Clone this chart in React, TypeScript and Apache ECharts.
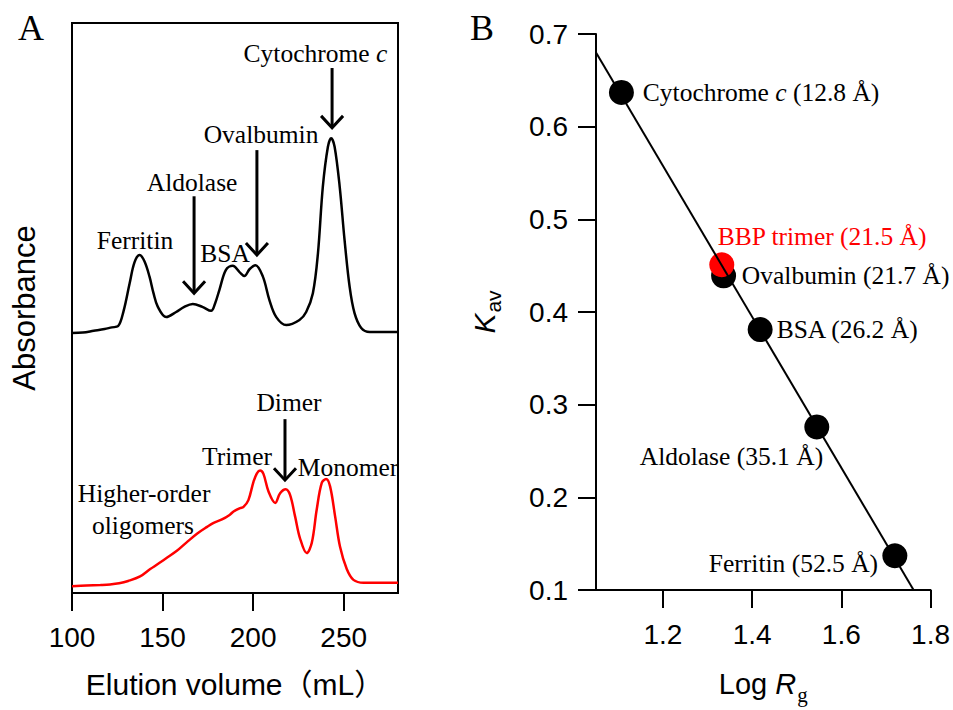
import React, { useEffect, useRef } from "react";
import * as echarts from "echarts";

// ---------- Panel A: elution profiles ----------
const standardsElution = [100, 106, 112, 118, 122, 125.4, 128.5, 131.8, 134.5, 137.3, 140, 142.8, 145, 147.4, 152, 157.5, 162, 166.7, 172, 176.8, 179, 181.4, 185, 188.8, 192.5, 195.2, 198, 201.3, 205.4, 209, 212.8, 218.3, 225.6, 229.3, 233, 235.8, 238.5, 241.3, 243.1, 245, 247.8, 250.5, 253.3, 256, 259.7, 264.4, 272, 280];
const standardsAbs = [45.6, 45.7, 46.0, 46.3, 46.6, 46.8, 49.5, 54.3, 58.0, 59.3, 58.2, 55.5, 52.6, 50.2, 48.4, 49.3, 50.2, 50.7, 50.2, 49.5, 50.8, 53.2, 56.7, 57.4, 56.3, 55.6, 56.8, 57.5, 55.5, 51.4, 48.4, 47.0, 47.9, 49.3, 52.6, 59.6, 71.3, 78.3, 79.8, 78.3, 71.3, 61.9, 53.7, 49.1, 46.5, 45.8, 45.8, 45.8];

const bbpElution = [100, 108, 115.7, 121, 126, 131, 137.6, 143.2, 152, 157.9, 163, 169, 174.6, 178.2, 182.8, 187, 189.2, 192.8, 194.7, 197.4, 200.2, 202.1, 203.9, 205.7, 208.5, 212.2, 214.9, 218, 220.4, 223.2, 225.9, 229.6, 232.4, 235.1, 237.9, 240.3, 242.5, 245.3, 248, 251.7, 255.4, 261, 270, 280];
const bbpAbs = [1.2, 1.3, 1.4, 1.5, 1.7, 2.1, 2.9, 4.2, 6.1, 7.4, 8.8, 10.4, 11.6, 12.3, 12.9, 13.7, 14.3, 14.9, 15.1, 16.3, 19.5, 21.0, 21.5, 20.9, 17.8, 15.8, 17.5, 18.2, 17.2, 13.4, 9.6, 7.0, 8.8, 14.6, 19.3, 20.0, 18.7, 13.4, 8.1, 4.2, 2.3, 1.8, 1.8, 1.8];

const xTicksA = [100, 150, 200, 250];

// peak annotations (data coordinates of panel A)
const peakLabelText = ["Cytochrome {i|c}", "Ovalbumin", "Aldolase", "Ferritin", "BSA"];
const peakLabelX = [234.4, 204.4, 166.3, 134.8, 184.5];
const peakLabelY = [94.7, 80.4, 72.1, 61.9, 59.6];
const peakArrows = [
  [243.6, 92.1, 81.6],
  [202.1, 77.7, 59.3],
  [167.4, 69.6, 52.6],
];
const oligoLabelText = ["Dimer", "Trimer", "Monomer", "Higher-order", "oligomers"];
const oligoLabelX = [219.8, 191.1, 252.4, 139.8, 139.2];
const oligoLabelY = [33.5, 23.9, 22.1, 17.4, 11.9];
const oligoArrows = [[217.6, 30.5, 19.8]];

// ---------- Panel B: calibration ----------
const proteinNames = ["Cytochrome {i|c}", "Ovalbumin", "BSA", "Aldolase", "Ferritin"];
const proteinRg = ["12.8", "21.7", "26.2", "35.1", "52.5"];
const proteinLogRg = [1.107, 1.336, 1.418, 1.545, 1.72];
const proteinKav = [0.637, 0.439, 0.381, 0.276, 0.137];
const bbpLogRg = [1.332];
const bbpKav = [0.451];
const bbpRg = ["21.5"];
const fitLogRg = [1.05, 1.762];
const fitKav = [0.68, 0.1];
const xTicksB = [1.2, 1.4, 1.6, 1.8];

// label anchor positions (data coordinates of panel B, left-aligned)
const proteinLabelX = [1.155, 1.377, 1.455, 1.148, 1.303];
const proteinLabelY = [0.637, 0.439, 0.381, 0.244, 0.129];
const bbpLabelX = [1.323];
const bbpLabelY = [0.482];

const SANS = "'Liberation Sans', Arial, 'Noto Sans CJK JP', sans-serif";
const SERIF = "'Liberation Serif', 'Times New Roman', serif";
const ANN_SIZE = 25.5;

function textSeries(gridIdx: number, texts: string[], xs: number[], ys: number[], color: string, align: string) {
  return {
    type: "custom",
    coordinateSystem: "cartesian2d",
    xAxisIndex: gridIdx,
    yAxisIndex: gridIdx,
    silent: true,
    clip: false,
    z: 20,
    data: xs.map((x, i) => [x, ys[i]]),
    encode: { x: 0, y: 1 },
    renderItem: (params: any, api: any) => {
      const p = api.coord([api.value(0), api.value(1)]);
      return {
        type: "text",
        x: p[0],
        y: p[1],
        style: {
          text: texts[params.dataIndex],
          fill: color,
          fontFamily: SERIF,
          fontSize: ANN_SIZE,
          align,
          verticalAlign: "middle",
          rich: {
            i: { fontStyle: "italic", fontFamily: SERIF, fontSize: ANN_SIZE, fill: color },
          },
        },
      };
    },
  };
}

function arrowSeries(gridIdx: number, arrows: number[][], color: string) {
  return {
    type: "custom",
    coordinateSystem: "cartesian2d",
    xAxisIndex: gridIdx,
    yAxisIndex: gridIdx,
    silent: true,
    clip: false,
    z: 20,
    data: arrows,
    encode: { x: 0, y: [1, 2] },
    renderItem: (params: any, api: any) => {
      const x = api.value(0);
      const a = api.coord([x, api.value(1)]);
      const b = api.coord([x, api.value(2)]);
      const w = 11;
      const h = 12;
      return {
        type: "group",
        children: [
          { type: "line", shape: { x1: a[0], y1: a[1], x2: b[0], y2: b[1] - 1 }, style: { stroke: color, lineWidth: 3 } },
          {
            type: "polyline",
            shape: { points: [[b[0] - w, b[1] - h], [b[0], b[1]], [b[0] + w, b[1] - h]] },
            style: { stroke: color, lineWidth: 3, fill: null },
          },
        ],
      };
    },
  };
}

export default function App() {
  const ref = useRef<HTMLDivElement>(null);
  useEffect(() => {
    if (!ref.current) return;
    const chart = echarts.init(ref.current, null, { renderer: "svg" });
    const axisLine = { show: true, lineStyle: { color: "#000", width: 2 } };
    const axisTick = { show: true, inside: false, length: 18, lineStyle: { color: "#000", width: 2 } };
    const tickLabel = { color: "#000", fontSize: 28, fontFamily: SANS };

    chart.setOption({
      animation: false,
      backgroundColor: "#fff",
      grid: [
        { left: 72, top: 23, width: 326, height: 570, show: true, borderColor: "#000", borderWidth: 2, backgroundColor: "transparent" },
        { left: 596, top: 34, width: 335, height: 561 },
      ],
      xAxis: [
        {
          gridIndex: 0,
          type: "value",
          min: 100,
          max: 280,
          interval: 50,
          axisLine,
          axisTick: { ...axisTick, customValues: xTicksA },
          axisLabel: { ...tickLabel, margin: 30, customValues: xTicksA },
          splitLine: { show: false },
          name: "Elution volume（mL）",
          nameLocation: "middle",
          nameGap: 76,
          nameTextStyle: { color: "#000", fontSize: 30, fontFamily: SANS },
        },
        {
          gridIndex: 1,
          type: "value",
          min: 1.05,
          max: 1.8,
          axisLine,
          axisTick: { ...axisTick, customValues: xTicksB },
          axisLabel: { ...tickLabel, margin: 30, customValues: xTicksB, formatter: (v: number) => v.toFixed(1) },
          splitLine: { show: false },
          name: "Log {i|R}{s|g}",
          nameLocation: "middle",
          nameGap: 72,
          nameTextStyle: {
            color: "#000",
            fontSize: 29,
            fontFamily: SANS,
            rich: {
              i: { fontStyle: "italic", fontSize: 29, fontFamily: SANS, color: "#000" },
              s: { fontSize: 21, fontFamily: SERIF, color: "#000", padding: [22, 0, 0, 1] },
            },
          },
        },
      ],
      yAxis: [
        {
          gridIndex: 0,
          type: "value",
          min: 0,
          max: 100,
          axisLine,
          axisTick: { show: false },
          axisLabel: { show: false },
          splitLine: { show: false },
          name: "Absorbance",
          nameLocation: "middle",
          nameGap: 32,
          nameTextStyle: { color: "#000", fontSize: 31, fontFamily: SANS },
        },
        {
          gridIndex: 1,
          type: "value",
          min: 0.1,
          max: 0.7,
          interval: 0.1,
          axisLine,
          axisTick,
          axisLabel: { ...tickLabel, margin: 28, formatter: (v: number) => v.toFixed(1) },
          splitLine: { show: false },
          name: "{k|K}{s|av}",
          nameLocation: "middle",
          nameGap: 92,
          nameTextStyle: {
            color: "#000",
            fontSize: 30,
            fontFamily: SANS,
            rich: {
              k: { fontStyle: "italic", fontSize: 30, fontFamily: SANS, color: "#000" },
              s: { fontSize: 21, fontFamily: SANS, color: "#000", padding: [18, 0, 0, 1] },
            },
          },
        },
      ],
      graphic: [
        { type: "text", left: 18, top: 10, style: { text: "A", fontFamily: SERIF, fontSize: 36, fill: "#000" } },
        { type: "text", left: 470, top: 10, style: { text: "B", fontFamily: SERIF, fontSize: 36, fill: "#000" } },
      ],
      series: [
        {
          type: "line",
          xAxisIndex: 0,
          yAxisIndex: 0,
          data: standardsElution.map((x, i) => [x, standardsAbs[i]]),
          smooth: 0.35,
          showSymbol: false,
          symbol: "none",
          lineStyle: { color: "#000", width: 2.5 },
          z: 5,
        },
        {
          type: "line",
          xAxisIndex: 0,
          yAxisIndex: 0,
          data: bbpElution.map((x, i) => [x, bbpAbs[i]]),
          smooth: 0.35,
          showSymbol: false,
          symbol: "none",
          lineStyle: { color: "#ff0000", width: 2.5 },
          z: 5,
        },
        textSeries(0, peakLabelText, peakLabelX, peakLabelY, "#000", "center"),
        arrowSeries(0, peakArrows, "#000"),
        textSeries(0, oligoLabelText, oligoLabelX, oligoLabelY, "#000", "center"),
        arrowSeries(0, oligoArrows, "#000"),
        {
          type: "scatter",
          xAxisIndex: 1,
          yAxisIndex: 1,
          data: proteinLogRg.map((x, i) => [x, proteinKav[i]]),
          symbol: "circle",
          symbolSize: 25,
          itemStyle: { color: "#000", opacity: 1 },
          z: 3,
        },
        {
          type: "scatter",
          xAxisIndex: 1,
          yAxisIndex: 1,
          data: bbpLogRg.map((x, i) => [x, bbpKav[i]]),
          symbol: "circle",
          symbolSize: 25,
          itemStyle: { color: "#ff0000", opacity: 1 },
          z: 4,
        },
        {
          type: "line",
          xAxisIndex: 1,
          yAxisIndex: 1,
          data: fitLogRg.map((x, i) => [x, fitKav[i]]),
          showSymbol: false,
          symbol: "none",
          lineStyle: { color: "#000", width: 2 },
          z: 6,
        },
        textSeries(1, proteinNames.map((n, i) => `${n} (${proteinRg[i]} Å)`), proteinLabelX, proteinLabelY, "#000", "left"),
        textSeries(1, bbpRg.map((r) => `BBP trimer (${r} Å)`), bbpLabelX, bbpLabelY, "#ff0000", "left"),
      ],
    });
    return () => chart.dispose();
  }, []);
  return <div ref={ref} style={{ position: "fixed", left: 0, top: 0, width: 953, height: 710, background: "#fff" }} />;
}
